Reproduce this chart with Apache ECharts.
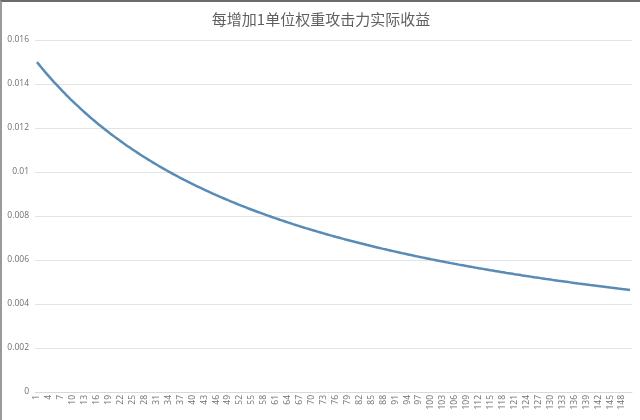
<!DOCTYPE html>
<html>
<head>
<meta charset="utf-8">
<script src="https://cdn.jsdelivr.net/npm/echarts@6/dist/echarts.min.js"></script>
<style>
html,body{margin:0;padding:0;background:#fff;}
#chart{width:640px;height:420px;box-sizing:border-box;border-top:2px solid #6b6b6b;border-left:2px solid #9a9a9a;}
</style>
</head>
<body>
<div id="chart"></div>
<script>
// 横轴：权重单位 1..150
var categories = Array.from({length:150}, function(_, i){ return String(i + 1); });
// 每单位实际收益
var gainValues = [
	0.014993,0.014771,0.014556,0.014347,0.014144,0.013947,0.013755,0.013569,0.013387,0.013210,
	0.013038,0.012870,0.012706,0.012547,0.012392,0.012240,0.012092,0.011947,0.011806,0.011669,
	0.011534,0.011403,0.011274,0.011148,0.011025,0.010905,0.010787,0.010672,0.010560,0.010449,
	0.010341,0.010235,0.010132,0.010030,0.009930,0.009833,0.009737,0.009643,0.009551,0.009461,
	0.009372,0.009285,0.009200,0.009116,0.009033,0.008953,0.008873,0.008795,0.008718,0.008643,
	0.008569,0.008496,0.008425,0.008354,0.008285,0.008217,0.008150,0.008084,0.008019,0.007955,
	0.007893,0.007831,0.007770,0.007710,0.007651,0.007593,0.007536,0.007479,0.007424,0.007369,
	0.007315,0.007262,0.007210,0.007158,0.007107,0.007057,0.007008,0.006959,0.006911,0.006863,
	0.006817,0.006770,0.006725,0.006680,0.006636,0.006592,0.006549,0.006506,0.006464,0.006423,
	0.006382,0.006341,0.006301,0.006262,0.006223,0.006184,0.006146,0.006109,0.006072,0.006035,
	0.005999,0.005963,0.005928,0.005893,0.005858,0.005824,0.005790,0.005757,0.005724,0.005692,
	0.005659,0.005627,0.005596,0.005565,0.005534,0.005504,0.005473,0.005444,0.005414,0.005385,
	0.005356,0.005328,0.005299,0.005271,0.005244,0.005216,0.005189,0.005163,0.005136,0.005110,
	0.005084,0.005058,0.005033,0.005008,0.004983,0.004958,0.004933,0.004909,0.004885,0.004861,
	0.004838,0.004815,0.004792,0.004769,0.004746,0.004724,0.004701,0.004679,0.004658,0.004636
];
var titleText = '每增加1单位权重攻击力实际收益';

var chart = echarts.init(document.getElementById('chart'));
chart.setOption({
	animation:false,
	title:{
		text:titleText,
		left:'center',
		top:5,
		textStyle:{
			fontFamily:'Noto Sans CJK SC',
			fontSize:15,
			fontWeight:'normal',
			color:'#5f5f5f'
		}
	},
	grid:{
		left:33,
		right:8,
		top:38,
		bottom:28
	},
	xAxis:{
		type:'category',
		data:categories,
		boundaryGap:true,
		axisLine:{lineStyle:{color:'#d9d9d9'}},
		axisTick:{show:false},
		axisLabel:{
			interval:2,
			rotate:90,
			fontSize:8.5,
			color:'#6f6f6f',
			margin:3,
			fontFamily:'Open Sans'
		}
	},
	yAxis:{
		type:'value',
		min:0,
		max:0.016,
		interval:0.002,
		axisLine:{show:false},
		axisTick:{show:false},
		splitLine:{lineStyle:{color:'#e3e3e3'}},
		axisLabel:{
			fontSize:8.5,
			color:'#6f6f6f',
			margin:6,
			fontFamily:'Open Sans'
		}
	},
	series:[{
		type:'line',
		data:gainValues,
		smooth:true,
		showSymbol:false,
		lineStyle:{color:'#5a8bb5',width:2.5}
	}]
});
</script>
</body>
</html>
